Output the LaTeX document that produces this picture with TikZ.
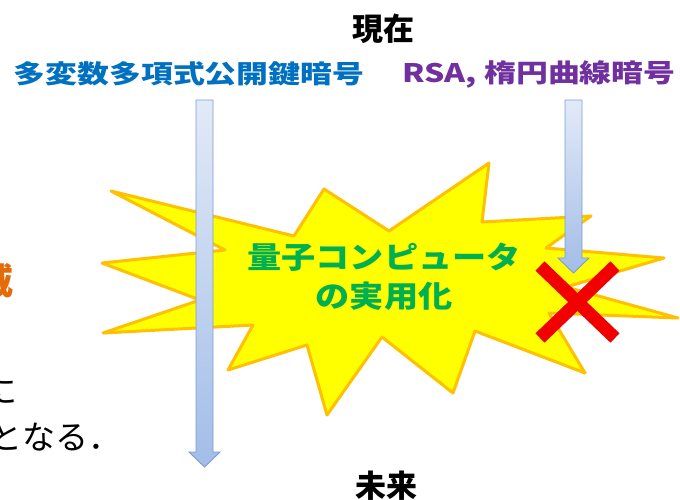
\documentclass[tikz,border=0pt]{standalone}
\usepackage{fontspec}
\newfontfamily\jp{Noto Sans CJK JP}
\newfontfamily\jpw[FakeStretch=1.25]{Noto Sans CJK JP}
\newfontfamily\jpg[FakeStretch=1.14]{Noto Sans CJK JP}
\definecolor{starfill}{HTML}{FFFF00}
\definecolor{starline}{HTML}{FFC000}
\definecolor{cblue}{HTML}{0070C0}
\definecolor{cpurple}{HTML}{7030A0}
\definecolor{cgreen}{HTML}{00B050}
\definecolor{corange}{HTML}{E36C09}
\definecolor{arrtop}{HTML}{E2EAF7}
\definecolor{arrbot}{HTML}{A2BDE8}
\definecolor{arrline}{HTML}{7E9CD4}
\definecolor{xred}{HTML}{F20000}
\tikzset{
  burst/.style={fill=starfill, draw=starline, line width=3pt, line join=round},
  blockarrow/.style={top color=arrtop, bottom color=arrbot, draw=arrline, line width=0.9pt, line join=miter},
  cross/.style={draw=xred, line width=13pt},
  lbl/.style={inner sep=0pt, outer sep=0pt},
}
\newcommand{\varrow}[4]{%
  \path[blockarrow] ({#1-8.5},#2) -- ({#1+8.5},#2) -- ({#1+8.5},#3) -- ({#1+15.5},#3)
    -- (#1,#4) -- ({#1-15.5},#3) -- ({#1-8.5},#3) -- cycle;}
\begin{document}
\begin{tikzpicture}[x=1pt,y=-1pt]
\useasboundingbox (0,0) rectangle (680,499);
\clip (0,0) rectangle (680,499);
\fill[white] (0,0) rectangle (680,499);
% explosion burst
\path[burst] (111,191) -- (294,236) -- (324,189) -- (389,231) -- (489,163) -- (482,222)
  -- (591,216) -- (546,248) -- (664,258) -- (566,287) -- (678,318) -- (549,313)
  -- (585,373) -- (475,331) -- (453,393) -- (382,337) -- (327,415) -- (307,345)
  -- (228,370) -- (253,325) -- (103,333) -- (200,300) -- (102,263) -- (225,250) -- cycle;
% block arrows
\varrow{204.5}{100}{452}{467}
\varrow{573.5}{100}{258}{273}
% red cross
\coordinate (x1) at (540,266); \coordinate (x2) at (615,338);
\coordinate (x3) at (615,266); \coordinate (x4) at (540,338);
\draw[cross] (x1) -- (x2);
\draw[cross] (x3) -- (x4);
% texts
\node[lbl, font=\jp\bfseries\fontsize{31}{31}\selectfont] (now) at (383.5,29) {現在};
\node[lbl, font=\jp\bfseries\fontsize{31}{31}\selectfont] (future) at (386,486) {未来};
\node[lbl, font=\jpw\bfseries\fontsize{25.5}{25.5}\selectfont, text=cblue] (mq) at (189,74) {多変数多項式公開鍵暗号};
\node[lbl, font=\jpw\bfseries\fontsize{25.5}{25.5}\selectfont, text=cpurple] (rsa) at (539,74) {RSA, 楕円曲線暗号};
\node[lbl, font=\jpg\bfseries\fontsize{30}{30}\selectfont, text=cgreen] (qc1) at (384,257) {量子コンピュータ};
\node[lbl, font=\jpg\bfseries\fontsize{30}{30}\selectfont, text=cgreen] (qc2) at (384,296) {の実用化};
\node[lbl, font=\jp\bfseries\fontsize{36}{36}\selectfont, text=corange, anchor=east] (thr) at (14,281) {威};
\node[lbl, font=\jp\fontsize{33}{33}\selectfont, anchor=west] (ni) at (-15,391) {に};
\node[lbl, font=\jp\fontsize{33}{33}\selectfont, anchor=west] (naru) at (-10,437) {となる．};
\end{tikzpicture}
\end{document}
